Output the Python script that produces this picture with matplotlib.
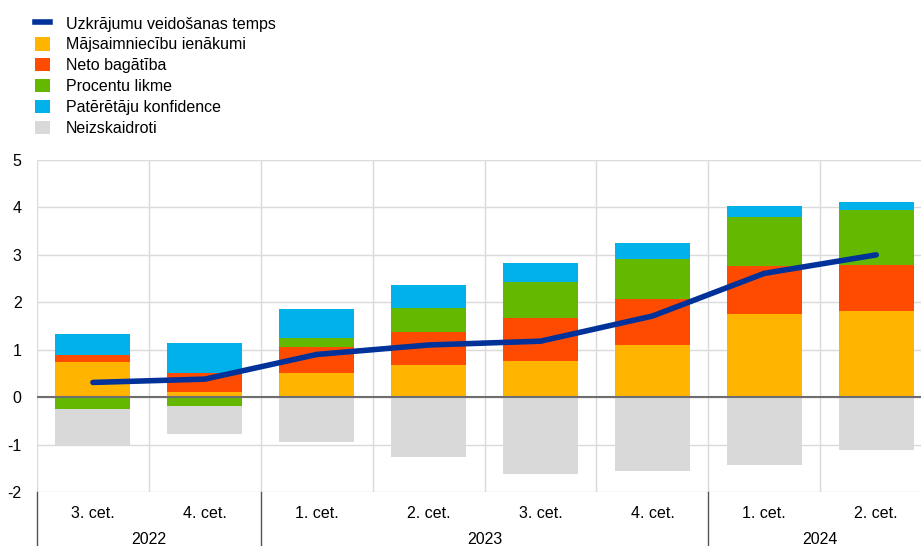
import matplotlib.pyplot as plt
from matplotlib.patches import Patch
from matplotlib.lines import Line2D
import numpy as np

plt.rcParams["font.family"] = ["Liberation Sans", "DejaVu Sans"]

# data (percentage points)
quarters = ["3. cet.", "4. cet.", "1. cet.", "2. cet.", "3. cet.", "4. cet.", "1. cet.", "2. cet."]
years = ["2022", "2023", "2024"]
year_spans = [(0, 1), (2, 5), (6, 7)]

income = [0.74, 0.11, 0.51, 0.68, 0.77, 1.09, 1.75, 1.81]
wealth = [0.15, 0.39, 0.55, 0.70, 0.90, 0.97, 1.01, 0.97]
rate = [-0.26, -0.18, 0.18, 0.49, 0.76, 0.86, 1.03, 1.17]
confidence = [0.45, 0.65, 0.62, 0.49, 0.39, 0.34, 0.25, 0.17]
unexplained = [-0.77, -0.60, -0.95, -1.26, -1.63, -1.56, -1.44, -1.12]
saving_rate = [0.31, 0.38, 0.90, 1.10, 1.18, 1.71, 2.61, 3.00]

labels = [
    "Uzkrājumu veidošanas temps",
    "Mājsaimniecību ienākumi",
    "Neto bagātība",
    "Procentu likme",
    "Patērētāju konfidence",
    "Neizskaidroti",
]
colors = ["#003299", "#FFB400", "#FF4B00", "#65B800", "#00B1EA", "#D9D9D9"]

fig = plt.figure(figsize=(9.21, 5.46), dpi=100)
ax = fig.add_axes([37 / 921, 54 / 546, 884 / 921, 332 / 546])

x = np.arange(len(quarters))
width = 0.67

# stack positives upward and negatives downward
pos = np.zeros(len(x))
neg = np.zeros(len(x))
for vals, col in zip([income, wealth, rate, confidence, unexplained], colors[1:]):
    vals = np.array(vals)
    bottoms = np.where(vals >= 0, pos, neg)
    ax.bar(x, vals, width, bottom=bottoms, color=col, edgecolor="none", zorder=2)
    pos = pos + np.clip(vals, 0, None)
    neg = neg + np.clip(vals, None, 0)

ax.plot(x, saving_rate, color=colors[0], linewidth=4, solid_capstyle="round",
        solid_joinstyle="round", zorder=4)
ax.axhline(0, color="#6e6e6e", linewidth=1.5, zorder=3)

ax.set_xlim(-0.5, 7.4)
ax.set_ylim(-2, 5)
ax.set_yticks(range(-2, 6))
ax.set_yticklabels([str(v) for v in range(-2, 6)])
ax.set_xticks(np.arange(-0.5, 7.5, 1), minor=False)
ax.set_xticklabels([])
ax.grid(True, color="#dadada", linewidth=1, zorder=0)
ax.set_axisbelow(True)
ax.tick_params(axis="both", length=0, labelsize=11.5, pad=11)
for s in ax.spines.values():
    s.set_visible(False)

# category and year labels under the axis
trans = ax.get_xaxis_transform()
for i, q in enumerate(quarters):
    ax.text(i, -22 / 332, q, transform=trans, ha="center", va="center", fontsize=11.5)
for yr, (a, b) in zip(years, year_spans):
    ax.text((a + b) / 2, -48 / 332, yr, transform=trans, ha="center", va="center", fontsize=11.5)
for xb in [-0.5, 1.5, 5.5]:
    ax.add_line(Line2D([xb, xb], [0, -54 / 332], transform=trans, color="#555555",
                       linewidth=1, clip_on=False))

handles = [Line2D([0], [0], color=colors[0], linewidth=4)]
handles += [Patch(facecolor=c, edgecolor="none") for c in colors[1:]]
fig.legend(handles, labels, loc="upper left", bbox_to_anchor=(29 / 921, 1 - 10 / 546),
           frameon=False, fontsize=11.5, handlelength=0.9, handleheight=0.9,
           handletextpad=1.0, labelspacing=0.36, borderaxespad=0)

fig.savefig("out.png", dpi=100)
